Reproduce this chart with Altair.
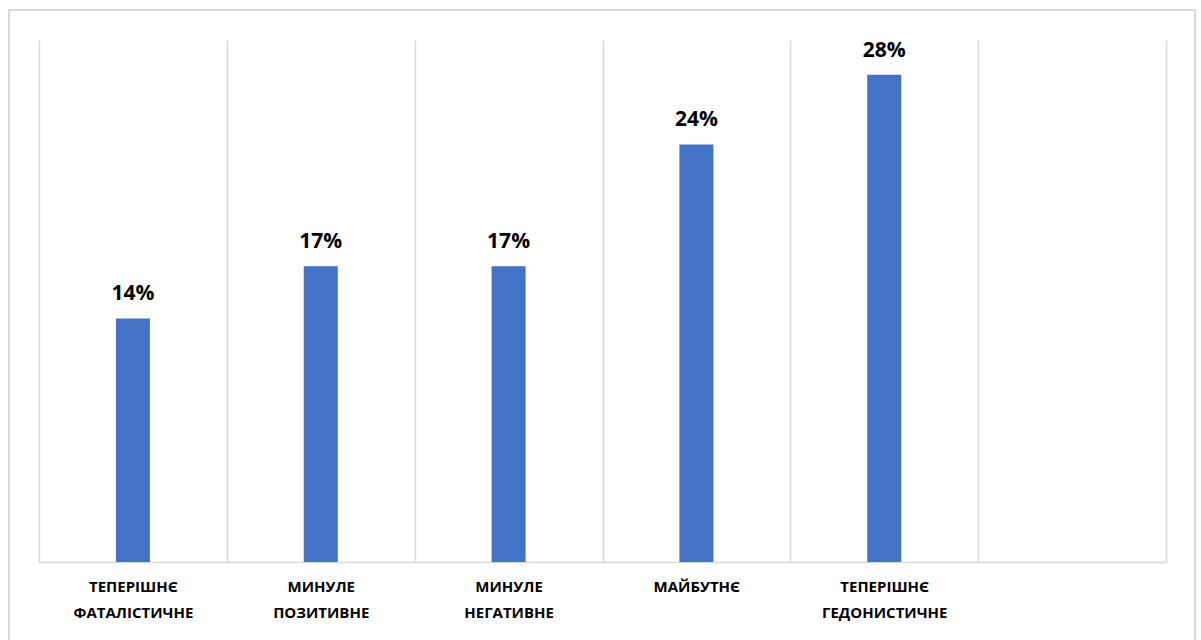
import altair as alt
import pandas as pd

categories = ["ТЕПЕРІШНЄ ФАТАЛІСТИЧНЕ", "МИНУЛЕ ПОЗИТИВНЕ", "МИНУЛЕ НЕГАТИВНЕ",
              "МАЙБУТНЄ", "ТЕПЕРІШНЄ ГЕДОНИСТИЧНЕ"]
values = [0.14, 0.17, 0.17, 0.24, 0.28]
x_domain = categories + [""]

df = pd.DataFrame({"cat": categories, "val": values})

W, H = 1127, 522
GRID = "#d9d9d9"
FONT = "Open Sans"

x = alt.X("cat:N", scale=alt.Scale(domain=x_domain, paddingInner=0, paddingOuter=0),
          sort=x_domain,
          axis=alt.Axis(title=None, tickBand="extent", grid=True, gridColor=GRID,
                        gridWidth=1.5, domainColor=GRID, domainWidth=1.5, ticks=False,
                        labelAngle=0, labelFont=FONT, labelFontSize=15,
                        labelFontWeight="bold", labelColor="#000000",
                        labelPadding=17, labelLineHeight=26, labelBaseline="top",
                        labelExpr="split(datum.label, ' ')"))
y = alt.Y("val:Q", scale=alt.Scale(domain=[0, 0.30], nice=False), axis=None)

base = alt.Chart(df)
bars = base.mark_bar(size=34, color="#4472C4").encode(x=x, y=y)
labels = base.mark_text(font=FONT, fontSize=21, fontWeight="bold", color="#000000",
                        baseline="alphabetic", dy=-18).encode(
    x=alt.X("cat:N", sort=x_domain), y=y, text=alt.Text("val:Q", format=".0%"))

border = alt.Chart(pd.DataFrame({"a": [0]})).mark_rect(
    fill="transparent", stroke=GRID, strokeWidth=2).encode(
    x=alt.value(-30), x2=alt.value(1156), y=alt.value(-30), y2=alt.value(640))

chart = alt.layer(border, bars, labels).properties(
    width=W, height=H,
    background="white",
    autosize=alt.AutoSizeParams(type="none"),
    padding={"left": 39, "top": 40, "right": 35, "bottom": 78},
).configure_view(stroke=None, strokeWidth=0)

chart.save("out.html", embed_options={"renderer": "svg", "actions": False})
